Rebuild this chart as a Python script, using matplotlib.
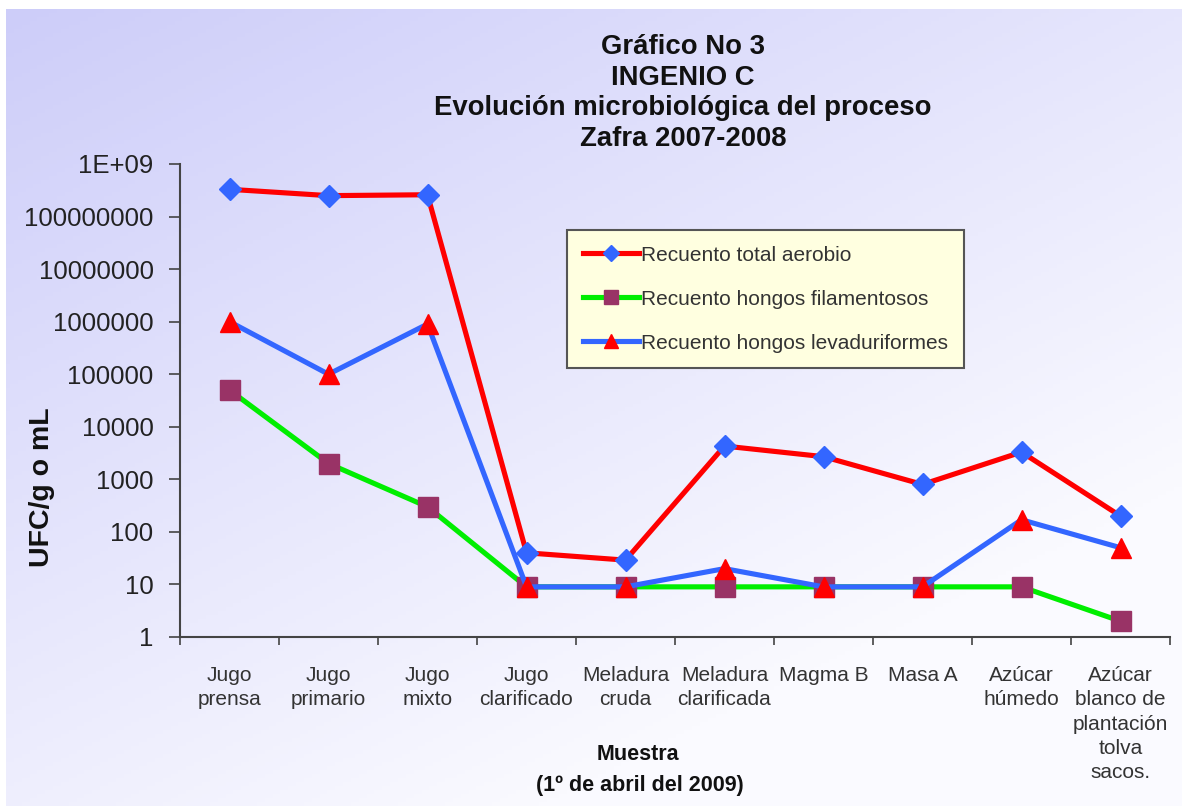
import numpy as np
import matplotlib
matplotlib.use("Agg")
import matplotlib.pyplot as plt
from matplotlib.ticker import FixedLocator, NullFormatter

plt.rcParams['font.family'] = ['Liberation Sans', 'DejaVu Sans']

# Data
muestras = ["Jugo\nprensa", "Jugo\nprimario", "Jugo\nmixto", "Jugo\nclarificado",
            "Meladura\ncruda", "Meladura\nclarificada", "Magma B", "Masa A",
            "Azúcar\nhúmedo", "Azúcar\nblanco de\nplantación\ntolva\nsacos."]
aerobio = [3.3e8, 2.5e8, 2.6e8, 40, 29, 4300, 2700, 800, 3300, 200]
filamentosos = [5e4, 2000, 300, 9, 9, 9, 9, 9, 9, 2]
levaduriformes = [1e6, 1e5, 9e5, 9, 9, 20, 9, 9, 170, 50]
ytick_vals = [1, 10, 100, 1000, 10000, 100000, 1000000, 10000000, 100000000, 1e9]
ytick_labels = ["1", "10", "100", "1000", "10000", "100000", "1000000",
                "10000000", "100000000", "1E+09"]

W, H = 1182, 806
fig = plt.figure(figsize=(W / 100, H / 100), dpi=100)

# Background gradient (lavender top-left to near white bottom-right)
bg = fig.add_axes([0, 0, 1, 1], zorder=-10)
yy, xx = np.mgrid[0:1:200j, 0:1:300j]
t = np.clip(0.55 * xx + 0.75 * yy, 0, 1)
c0 = np.array([205, 205, 249]) / 255
c1 = np.array([250, 250, 255]) / 255
img = c0[None, None, :] * (1 - t[..., None]) + c1[None, None, :] * t[..., None]
bg.imshow(img, extent=[6 / W, 1, 0, 1 - 9 / H], aspect='auto', origin='upper')
bg.set_xlim(0, 1)
bg.set_ylim(0, 1)
bg.axis('off')

ax = fig.add_axes([180 / W, 1 - 637 / H, 990 / W, 473 / H])
ax.patch.set_alpha(0)

x = np.arange(len(muestras)) + 0.5
ax.plot(x, aerobio, color='#ff0000', lw=3.7, marker='D', ms=11,
        mfc='#3366ff', mec='#3366ff', label='Recuento total aerobio', zorder=3)
ax.plot(x, filamentosos, color='#00ee00', lw=3.7, marker='s', ms=14,
        mfc='#993366', mec='#993366', label='Recuento hongos filamentosos', zorder=2)
ax.plot(x, levaduriformes, color='#3366ff', lw=3.7, marker='^', ms=15,
        mfc='#ff0000', mec='#ff0000', label='Recuento hongos levaduriformes', zorder=4)

ax.set_yscale('log')
ax.set_ylim(1, 1e9)
ax.set_xlim(0, len(muestras))
ax.yaxis.set_major_locator(FixedLocator(ytick_vals))
ax.yaxis.set_minor_locator(FixedLocator([]))
ax.set_yticklabels(ytick_labels, fontsize=18.5, color='#222222')

ax.set_xticks(np.arange(len(muestras) + 1))
ax.xaxis.set_major_formatter(NullFormatter())
ax.set_xticks(x, minor=True)
ax.set_xticklabels(muestras, minor=True, fontsize=15, color='#333333',
                   linespacing=1.35, va='top')
ax.tick_params(axis='x', which='minor', length=0, pad=21)
ax.tick_params(axis='x', which='major', length=6, width=1.2, color='#444444', direction='out')
ax.tick_params(axis='y', which='major', length=8, width=1.2, color='#444444', direction='out', pad=11)

for s in ['top', 'right']:
    ax.spines[s].set_visible(False)
for s in ['left', 'bottom']:
    ax.spines[s].set_color('#444444')
    ax.spines[s].set_linewidth(1.5)

leg = ax.legend(loc='upper left', bbox_to_anchor=((567 - 180) / 990, (637 - 230) / 473),
                fontsize=15, frameon=True, fancybox=False, handlelength=2.7,
                handletextpad=0.1, labelspacing=1.2, borderpad=0.75, borderaxespad=0,
                markerscale=0.7)
leg.get_frame().set_facecolor('#ffffe0')
leg.get_frame().set_edgecolor('#555555')
leg.get_frame().set_linewidth(1.5)
leg.get_frame().set_alpha(1)
for txt in leg.get_texts():
    txt.set_color('#333333')

fig.text(683 / W, 1 - 93 / H, "Gráfico No 3\nINGENIO C\nEvolución microbiológica del proceso\nZafra 2007-2008",
         ha='center', va='center', fontsize=19.8, fontweight='bold', linespacing=1.22, color='#111111')

fig.text(42 / W, 1 - 487 / H, "UFC/g o mL", rotation=90, ha='center', va='center',
         fontsize=20.5, fontweight='bold', color='#111111')
fig.text(638 / W, 1 - 754 / H, "Muestra", ha='center', va='center',
         fontsize=15.5, fontweight='bold', color='#111111')
fig.text(640 / W, 1 - 785 / H, "(1º de abril del 2009)", ha='center', va='center',
         fontsize=15.5, fontweight='bold', color='#111111')

fig.savefig("out.png", dpi=100)
